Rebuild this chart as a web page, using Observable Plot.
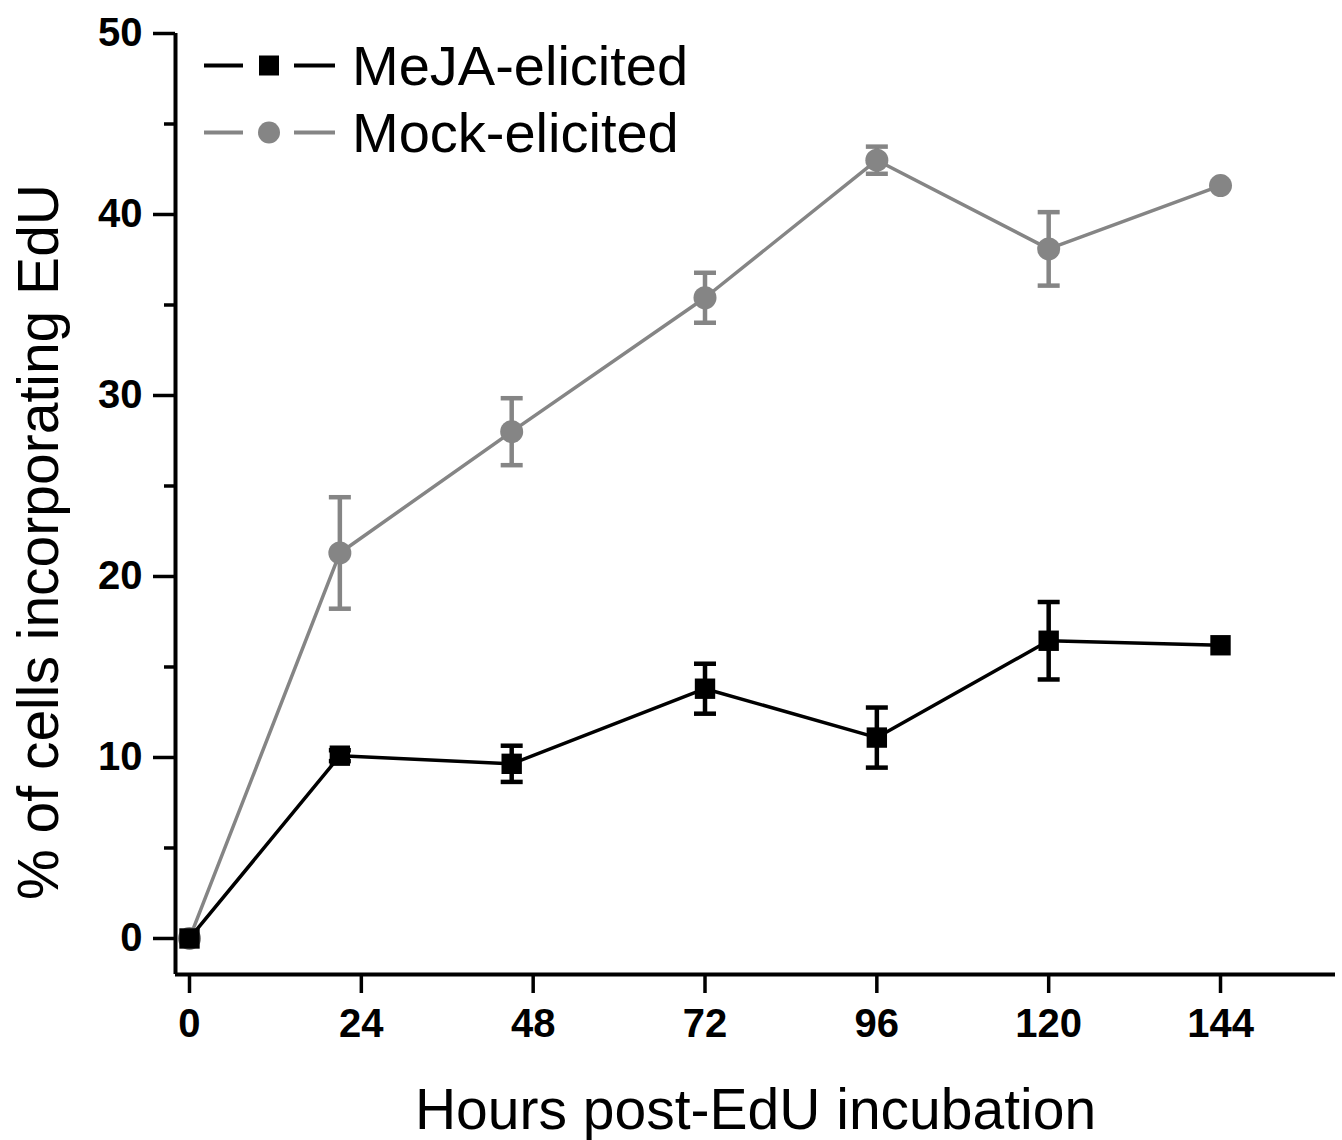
<!DOCTYPE html>
<html><head><meta charset="utf-8">
<script src="https://cdn.jsdelivr.net/npm/d3@7"></script>
<script src="https://cdn.jsdelivr.net/npm/@observablehq/plot@0.6"></script>
<style>
body{margin:0;background:#fff;}
#wrap{position:relative;width:1342px;height:1140px;font-family:"Liberation Sans",Arial,sans-serif;}
#legend{position:absolute;left:200px;top:32px;}
.row{display:flex;align-items:center;height:67px;font-size:56px;color:#000;line-height:1;}
.row svg{display:block;}
</style></head><body><div id="wrap"><div id="legend"></div></div>
<script>
// Data
const hours = [0, 21, 45, 72, 96, 120, 144];
const mejaMean = [0, 10.1, 9.65, 13.8, 11.1, 16.45, 16.2];
const mejaErr  = [0, 0.3, 1.0, 1.38, 1.66, 2.14, 0];
const mockMean = [0, 21.3, 28.0, 35.4, 43.0, 38.1, 41.6];
const mockErr  = [0, 3.08, 1.85, 1.38, 0.75, 2.03, 0];
const xTicks = [0, 24, 48, 72, 96, 120, 144];
const yTicks = [0, 10, 20, 30, 40, 50];
const yMinor = [5, 15, 25, 35, 45];
const seriesNames = ["MeJA-elicited", "Mock-elicited"];
const xTitle = "Hours post-EdU incubation";
const yTitle = "% of cells incorporating EdU";

const BLACK = "#000000", GRAY = "#858585";
const FONT = '"Liberation Sans", Arial, sans-serif';

const mk = (mean, err) => hours.map((h, i) => ({x: h, y: mean[i], e: err[i]}));
const meja = mk(mejaMean, mejaErr);
const mock = mk(mockMean, mockErr);
const bars = d => d.filter(p => p.e > 0);
const caps = d => d.filter(p => p.e > 0).flatMap(p => [{x: p.x, y: p.y + p.e}, {x: p.x, y: p.y - p.e}]);

const capSymbol = {draw(ctx) { ctx.moveTo(-11, 0); ctx.lineTo(11, 0); }};

const xDomain = [-1.955, 160.06];
const yDomain = [-1.99, 50];

function series(data, color, symbol, r) {
  return [
    Plot.line(data, {x: "x", y: "y", stroke: color, strokeWidth: 3.5}),
    Plot.ruleX(bars(data), {x: "x", y1: d => d.y - d.e, y2: d => d.y + d.e, stroke: color, strokeWidth: 4.5}),
    Plot.dot(caps(data), {x: "x", y: "y", symbol: capSymbol, fill: "none", stroke: color, strokeWidth: 4.5}),
    Plot.dot(data, {x: "x", y: "y", symbol, r, fill: color, stroke: "none"})
  ];
}

const chart = Plot.plot({
  width: 1342,
  height: 1140,
  marginLeft: 175,
  marginRight: 7,
  marginTop: 33,
  marginBottom: 166,
  style: {fontFamily: FONT, background: "white", color: "black"},
  x: {domain: xDomain, label: null},
  y: {domain: yDomain, label: null},
  marks: [
    // axis lines
    Plot.ruleX([xDomain[0]], {y1: yDomain[0], y2: yDomain[1], stroke: BLACK, strokeWidth: 4}),
    Plot.ruleY([yDomain[0]], {x1: xDomain[0], x2: xDomain[1], stroke: BLACK, strokeWidth: 4}),
    Plot.axisY(yTicks, {anchor: "left", tickSize: 22, tickPadding: 11, fontSize: 40, fontWeight: "bold", strokeWidth: 3.5, label: null, fill: BLACK}),
    Plot.axisY(yMinor, {anchor: "left", tickSize: 11, tickFormat: () => "", strokeWidth: 3.5, label: null}),
    Plot.axisX(xTicks, {anchor: "bottom", tickSize: 19, tickPadding: 15, fontSize: 40, fontWeight: "bold", strokeWidth: 3.5, label: null, fill: BLACK}),
    // axis titles
    Plot.text([xTitle], {frameAnchor: "bottom", text: d => d, dy: 136, fontSize: 57, fill: BLACK, lineAnchor: "middle", textAnchor: "middle"}),
    Plot.text([yTitle], {frameAnchor: "left", text: d => d, dx: -136, dy: 38, rotate: -90, fontSize: 57, fill: BLACK, lineAnchor: "middle", textAnchor: "middle"}),
    ...series(mock, GRAY, "circle", 11.5),
    ...series(meja, BLACK, "square", 11.5)
  ]
});
document.getElementById("wrap").prepend(chart);
chart.style.position = "absolute";
chart.style.left = "0";
chart.style.top = "0";

// legend
const legend = document.getElementById("legend");
const swatches = [
  {name: seriesNames[0], color: BLACK, shape: "square"},
  {name: seriesNames[1], color: GRAY, shape: "circle"}
];
for (const s of swatches) {
  const row = document.createElement("div");
  row.className = "row";
  const marker = s.shape === "square"
    ? `<rect x="59" y="23.5" width="20" height="20" fill="${s.color}"/>`
    : `<circle cx="69" cy="33.5" r="11" fill="${s.color}"/>`;
  row.innerHTML = `<svg width="152" height="67"><line x1="4" x2="43" y1="33.5" y2="33.5" stroke="${s.color}" stroke-width="4"/>${marker}<line x1="94" x2="135" y1="33.5" y2="33.5" stroke="${s.color}" stroke-width="4"/></svg><span>${s.name}</span>`;
  legend.appendChild(row);
}
</script>
</body></html>
